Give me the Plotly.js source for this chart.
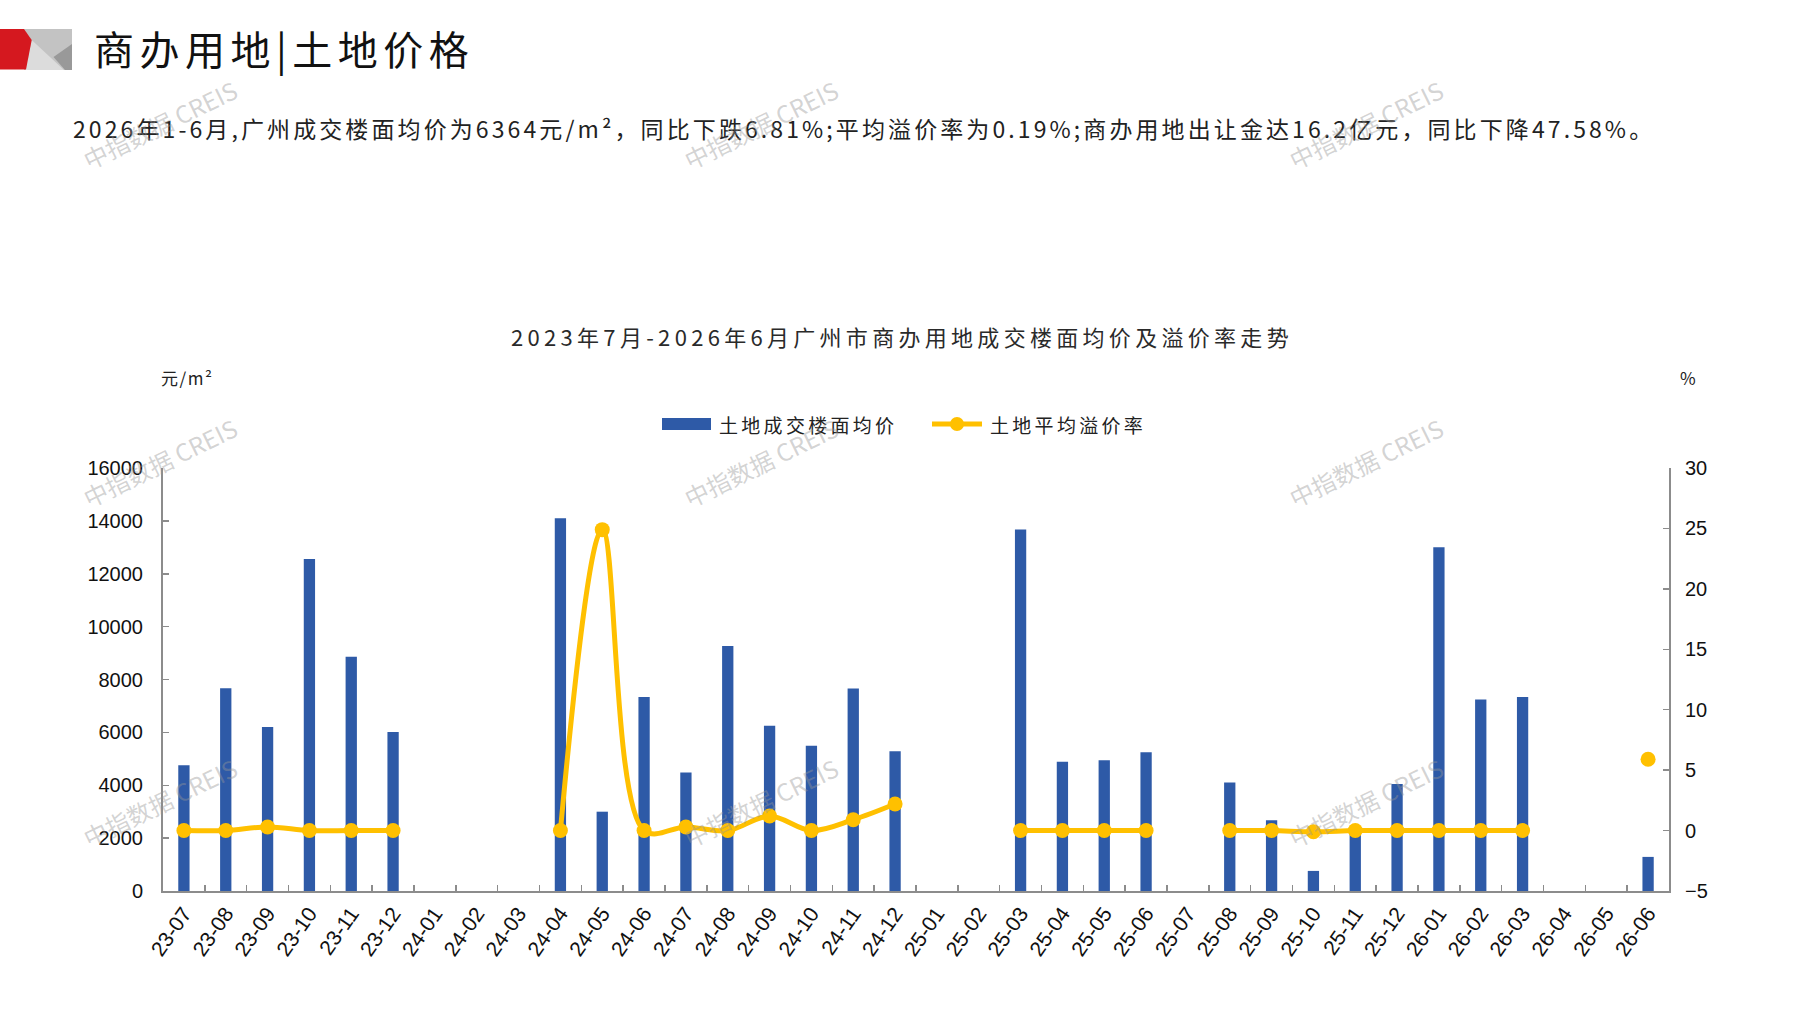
<!DOCTYPE html>
<html>
<head>
<meta charset="utf-8">
<script src="https://cdn.plot.ly/plotly-3.0.1.min.js"></script>
<style>
html,body{margin:0;padding:0;background:#fff;}
#chart{width:1797px;height:1010px;}
</style>
</head>
<body>
<div id="chart"></div>
<script>
// ---- data ----
const categories = ['23-07','23-08','23-09','23-10','23-11','23-12',
  '24-01','24-02','24-03','24-04','24-05','24-06','24-07','24-08','24-09','24-10','24-11','24-12',
  '25-01','25-02','25-03','25-04','25-05','25-06','25-07','25-08','25-09','25-10','25-11','25-12',
  '26-01','26-02','26-03','26-04','26-05','26-06'];
const avgPrice = [4760, 7670, 6200, 12560, 8860, 6010,
  null, null, null, 14100, 3000, 7340, 4480, 9270, 6250, 5490, 7660, 5290,
  null, null, 13670, 4890, 4950, 5250, null, 4100, 2680, 760, 2200, 4050,
  13000, 7240, 7340, null, null, 1290];
const premiumRate = [0, 0, 0.3, 0, 0, 0,
  null, null, null, 0, 24.9, 0, 0.3, 0, 1.2, 0, 0.9, 2.2,
  null, null, 0, 0, 0, 0, null, 0, 0, -0.1, 0, 0,
  0, 0, 0, null, null, 5.9];
const leftTicks = [0, 2000, 4000, 6000, 8000, 10000, 12000, 14000, 16000];
const rightTicks = [-5, 0, 5, 10, 15, 20, 25, 30];
const seriesNames = ['土地成交楼面均价', '土地平均溢价率'];
const headerText = '商办用地|土地价格';
const subtitleText = '2026年1-6月,广州成交楼面均价为6364元/m²，同比下跌6.81%;平均溢价率为0.19%;商办用地出让金达16.2亿元，同比下降47.58%。';
const chartTitle = '2023年7月-2026年6月广州市商办用地成交楼面均价及溢价率走势';
const leftUnit = '元/m²';
const rightUnit = '%';
const watermark = '中指数据 CREIS';

// ---- layout geometry ----
const W = 1797, H = 1010;
const L = 163, R = 1669, T = 468, B = 891;
const px = x => (x - L) / (R - L);
const py = y => (B - y) / (B - T);
const BLUE = '#2E5AA7', YELLOW = '#FFC000', AXIS = '#8c8c8c';
const FONT = 'Liberation Sans, Arial, Noto Sans CJK SC, sans-serif';
const CJK = 'Noto Sans CJK SC, sans-serif';
const ls = (t, s) => '<span style="letter-spacing:' + s + 'px">' + t + '</span>';

const traces = [
  {
    type: 'bar', x: categories, y: avgPrice, name: seriesNames[0],
    marker: {color: BLUE}, width: 0.27, yaxis: 'y', showlegend: false,
    hoverinfo: 'skip'
  },
  {
    type: 'scatter', mode: 'lines+markers', x: categories, y: premiumRate, name: seriesNames[1],
    yaxis: 'y2', connectgaps: false, showlegend: false,
    line: {color: YELLOW, width: 5, shape: 'spline', smoothing: 1},
    marker: {color: YELLOW, size: 15},
    hoverinfo: 'skip'
  }
];

function path(pts) {
  return 'M' + pts.map(p => px(p[0]) + ',' + py(p[1])).join('L') + 'Z';
}

const shapes = [
  // logo
  {type: 'path', xref: 'paper', yref: 'paper', path: path([[24,29],[72,29],[72,70],[24,70]]), fillcolor: '#c3c3c3', line: {width: 0}, layer: 'above'},
  {type: 'path', xref: 'paper', yref: 'paper', path: path([[31.7,40],[64,70],[25,70]]), fillcolor: '#dcdcdc', line: {width: 0}, layer: 'above'},
  {type: 'path', xref: 'paper', yref: 'paper', path: path([[53.5,57],[72,44],[72,70],[65,70]]), fillcolor: '#999999', line: {width: 0}, layer: 'above'},
  {type: 'path', xref: 'paper', yref: 'paper', path: path([[0,29],[24,29],[31.7,40],[26,69.5],[0,69.5]]), fillcolor: '#d5181f', line: {width: 0}, layer: 'above'},
  // legend symbols
  {type: 'rect', xref: 'paper', yref: 'paper', x0: px(662), x1: px(711), y0: py(430), y1: py(418), fillcolor: BLUE, line: {width: 0}},
  {type: 'line', xref: 'paper', yref: 'paper', x0: px(932), x1: px(982), y0: py(424), y1: py(424), line: {color: YELLOW, width: 5}},
  {type: 'circle', xref: 'paper', yref: 'paper', x0: px(950), x1: px(964), y0: py(431), y1: py(417), fillcolor: YELLOW, line: {width: 0}}
];

const annotations = [
  {text: ls(headerText, 5.5), x: px(92), y: py(48), xref: 'paper', yref: 'paper', xanchor: 'left', yanchor: 'middle', showarrow: false, font: {family: CJK, size: 40, color: '#111'}},
  {text: ls(subtitleText, 3.1), x: px(71), y: py(128), xref: 'paper', yref: 'paper', xanchor: 'left', yanchor: 'middle', showarrow: false, font: {family: CJK, size: 23, color: '#222'}},
  {text: ls(leftUnit, 1.5), x: px(159), y: py(377), xref: 'paper', yref: 'paper', xanchor: 'left', yanchor: 'middle', showarrow: false, font: {family: CJK, size: 17, color: '#222'}},
  {text: rightUnit, x: px(1688), y: py(378), xref: 'paper', yref: 'paper', xanchor: 'center', yanchor: 'middle', showarrow: false, font: {family: CJK, size: 17, color: '#222'}},
  {text: ls(seriesNames[0], 3.3), x: px(717), y: py(424), xref: 'paper', yref: 'paper', xanchor: 'left', yanchor: 'middle', showarrow: false, font: {family: CJK, size: 19, color: '#222'}},
  {text: ls(seriesNames[1], 3.3), x: px(988), y: py(424), xref: 'paper', yref: 'paper', xanchor: 'left', yanchor: 'middle', showarrow: false, font: {family: CJK, size: 19, color: '#222'}}
];

const wmX = [159, 760, 1365], wmY = [124, 462, 802];
wmY.forEach(yy => wmX.forEach(xx => {
  annotations.push({text: watermark, x: px(xx), y: py(yy), xref: 'paper', yref: 'paper', xanchor: 'center', yanchor: 'middle',
    showarrow: false, textangle: -26, font: {family: CJK, size: 24, color: 'rgba(150,150,150,0.42)'}});
}));

const layout = {
  width: W, height: H,
  margin: {l: L, r: W - R, t: T, b: H - B, pad: 0},
  paper_bgcolor: '#fff', plot_bgcolor: '#fff',
  font: {family: FONT, size: 20, color: '#1a1a1a'},
  showlegend: false,
  title: {
    text: ls(chartTitle, 4.3), font: {family: CJK, size: 22, color: '#2a2a2a'},
    xref: 'container', yref: 'container', x: 902 / W, xanchor: 'center', y: 1 - 338 / H, yanchor: 'middle'
  },
  xaxis: {
    type: 'category', range: [-0.5, categories.length - 0.5],
    showline: true, linecolor: AXIS, linewidth: 2,
    ticks: 'inside', tickson: 'boundaries', ticklen: 6, tickcolor: AXIS, tickwidth: 1.5,
    tickangle: -55, showgrid: false, zeroline: false,
    tickfont: {family: FONT, size: 21, color: '#111'}, fixedrange: true
  },
  yaxis: {
    range: [0, 16000], tickvals: leftTicks, ticktext: leftTicks.map(String),
    showline: true, linecolor: AXIS, linewidth: 2,
    ticks: 'inside', ticklen: 6, tickcolor: AXIS, tickwidth: 1.5, ticklabelstandoff: 14,
    showgrid: false, zeroline: false,
    tickfont: {family: FONT, size: 20, color: '#111'}, fixedrange: true
  },
  yaxis2: {
    overlaying: 'y', side: 'right', range: [-5, 30], tickvals: rightTicks,
    showline: true, linecolor: AXIS, linewidth: 2,
    ticks: 'inside', ticklen: 6, tickcolor: AXIS, tickwidth: 1.5, ticklabelstandoff: 10,
    showgrid: false, zeroline: false,
    tickfont: {family: FONT, size: 20, color: '#111'}, fixedrange: true
  },
  shapes: shapes,
  annotations: annotations
};

Plotly.newPlot('chart', traces, layout, {displayModeBar: false, staticPlot: true});
</script>
</body>
</html>
